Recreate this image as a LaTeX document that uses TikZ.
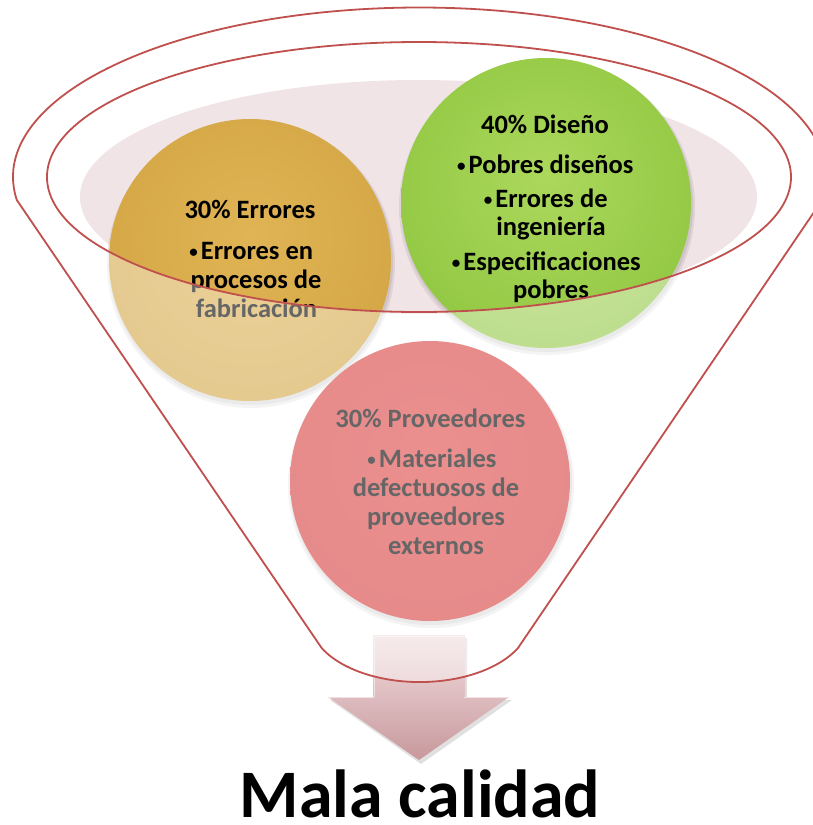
\documentclass[tikz,border=0pt]{standalone}
\usepackage{fontspec}
\setmainfont{Carlito}
\definecolor{linered}{RGB}{192,80,77}
\definecolor{pinkbg}{RGB}{240,228,230}
\definecolor{orA}{RGB}{224,180,84}
\definecolor{orB}{RGB}{210,164,68}
\definecolor{orC}{RGB}{192,147,58}
\definecolor{orD}{RGB}{150,112,42}
\definecolor{grA}{RGB}{172,216,92}
\definecolor{grB}{RGB}{143,198,64}
\definecolor{grC}{RGB}{122,172,52}
\definecolor{grD}{RGB}{90,128,38}
\definecolor{rdA}{RGB}{222,70,68}
\definecolor{rdB}{RGB}{212,60,60}
\definecolor{rdC}{RGB}{192,52,52}
\definecolor{rdD}{RGB}{150,40,40}
\definecolor{arTop}{RGB}{242,222,224}
\definecolor{arBot}{RGB}{200,152,156}
\pgfdeclareradialshading{orangeball}{\pgfpoint{0bp}{5bp}}{color(0bp)=(orA); color(32bp)=(orB); color(46bp)=(orC); color(55bp)=(orD)}
\pgfdeclareradialshading{greenball}{\pgfpoint{0bp}{5bp}}{color(0bp)=(grA); color(32bp)=(grB); color(46bp)=(grC); color(55bp)=(grD)}
\pgfdeclareradialshading{redball}{\pgfpoint{0bp}{5bp}}{color(0bp)=(rdA); color(32bp)=(rdB); color(46bp)=(rdC); color(55bp)=(rdD)}
\newcommand{\bulmark}{\llap{\raisebox{2pt}{\fontsize{17}{17}\selectfont•}\hspace{3pt}}}
\tikzset{
  txt/.style={font=\bfseries\fontsize{26.5}{30}\selectfont, anchor=base, inner sep=0pt},
  bigtxt/.style={font=\bfseries\fontsize{68}{80}\selectfont, anchor=base, inner sep=0pt},
  outline/.style={draw=linered, line width=1.8pt},
  softshadow/.style={fill=black, opacity=0.07}
}
\begin{document}
\begin{tikzpicture}[x=1pt,y=-1pt]
\useasboundingbox (0,0) rectangle (812,825);
\fill[white] (0,0) rectangle (812,825);
% pink background ellipse
\fill[pinkbg] (418.5,197) ellipse [x radius=338.5, y radius=117];
% circle shadows
\foreach \cx/\cy/\r in {250/260/141, 546/203/145, 430/481/140}{
  \fill[softshadow] (\cx+1,\cy+4) circle [radius=\r+3];
  \fill[softshadow] (\cx+1,\cy+3) circle [radius=\r+1];
}
% circles
\shade[shading=orangeball] (250,260) circle [radius=141];
\shade[shading=greenball] (546,203) circle [radius=145];
\shade[shading=redball] (430,481) circle [radius=140];
% texts
\node[txt] (e0) at (250,218) {30\% Errores};
\node[txt] (e1) at (257,259) {\bulmark Errores en};
\node[txt] (e2) at (256,288) {procesos de};
\node[txt] (e3) at (256.5,317) {fabricación};
\node[txt] (d0) at (545,133) {40\% Diseño};
\node[txt] (d1) at (551,173) {\bulmark Pobres diseños};
\node[txt] (d2) at (551.5,207) {\bulmark Errores de};
\node[txt] (d3) at (551,235) {ingeniería};
\node[txt] (d4) at (552,270) {\bulmark Especificaciones};
\node[txt] (d5) at (551,298) {pobres};
\node[txt] (p0) at (430.5,427) {30\% Proveedores};
\node[txt] (p1) at (437.7,467) {\bulmark Materiales};
\node[txt] (p2) at (436,496.5) {defectuosos de};
\node[txt] (p3) at (436,525.5) {proveedores};
\node[txt] (p4) at (436,554) {externos};
% arrow
\fill[black, opacity=0.12] (375,638) -- (467,638) -- (467,700) -- (512,700) -- (421,764) -- (330,700) -- (375,700) -- cycle;
\shade[top color=arTop, bottom color=arBot] (373,635) -- (465,635) -- (465,697) -- (509,697) -- (419,760) -- (328,697) -- (373,697) -- cycle;
\draw[white, opacity=0.6, line width=1pt] (374,697) -- (329,697);
\draw[white, opacity=0.6, line width=1pt] (464,697) -- (508,697);
\draw[white, opacity=0.5, line width=1pt] (374,697) -- (374,636) -- (464,636);
% translucent funnel body
\fill[white, opacity=0.4, even odd rule]
  (16.8,200) arc [start angle=172.2, end angle=367.8, x radius=406.5, y radius=169.5]
  -- (518,648) arc [start angle=26.8, end angle=153.2, x radius=110, y radius=62] -- cycle
  (419,177) ellipse [x radius=372, y radius=135];
% funnel outlines
\draw[outline, line join=round]
  (16.8,200) arc [start angle=172.2, end angle=367.8, x radius=406.5, y radius=169.5]
  -- (518,648) arc [start angle=26.8, end angle=153.2, x radius=110, y radius=62] -- cycle;
\draw[outline] (419,177) ellipse [x radius=372, y radius=135];
% result
\node[bigtxt] (mala) at (420,817) {Mala calidad};
\end{tikzpicture}
\end{document}
